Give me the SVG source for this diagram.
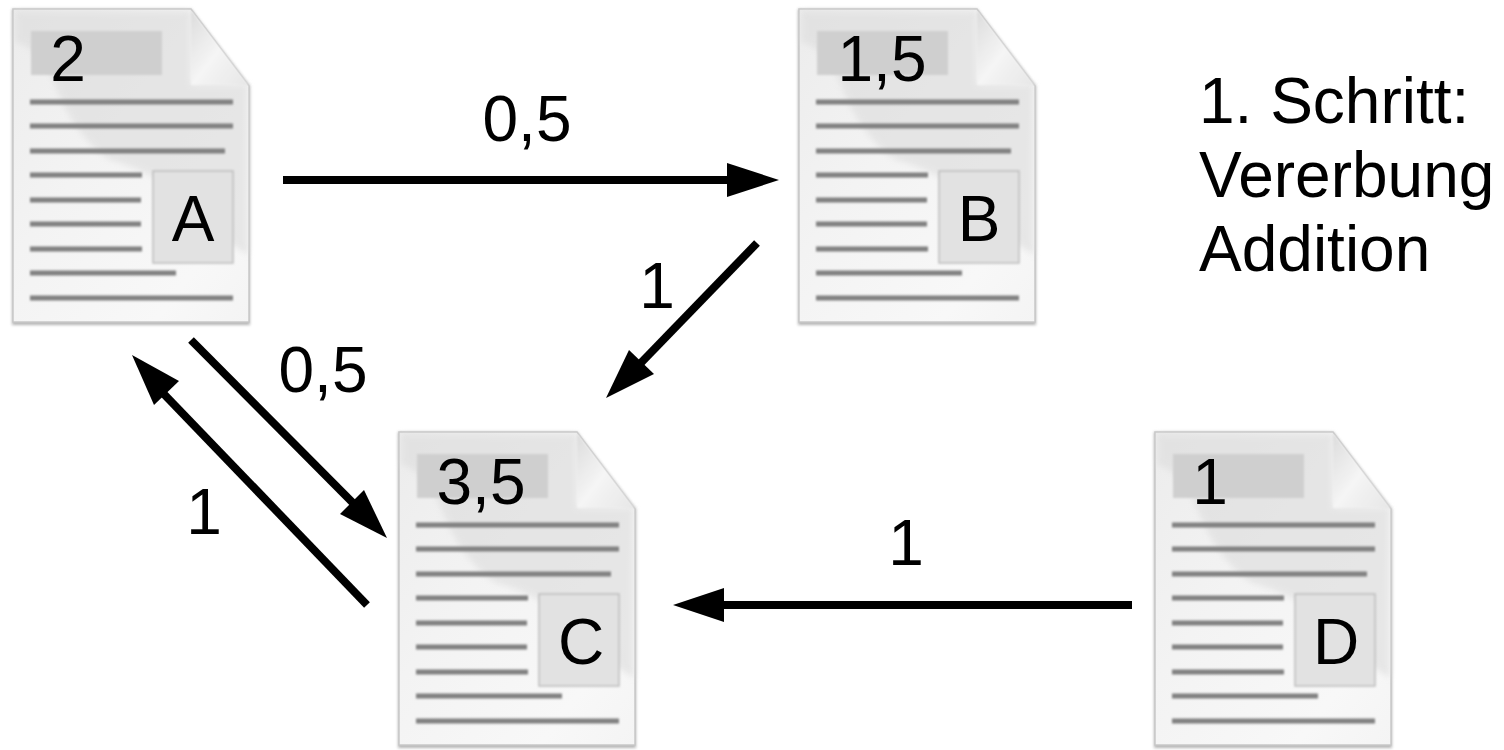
<svg xmlns="http://www.w3.org/2000/svg" xmlns:xlink="http://www.w3.org/1999/xlink" width="1504" height="750" viewBox="0 0 1504 750">
<style>
text{font-family:"Liberation Sans",Arial,sans-serif;font-size:64px;fill:#000}
.ln{stroke:#808080;stroke-width:5;fill:none}
.cn{stroke:#000;stroke-width:8;fill:none}
.ah{fill:#000;stroke:none}
</style>
<defs>
<linearGradient id="paper" x1="0" y1="0" x2="1" y2="1">
<stop offset="0" stop-color="#ececec"/><stop offset="0.4" stop-color="#f3f3f3"/><stop offset="0.8" stop-color="#f8f8f8"/><stop offset="1" stop-color="#f4f4f4"/>
</linearGradient>
<linearGradient id="foldg" x1="0" y1="0" x2="1" y2="1">
<stop offset="0" stop-color="#dcdcdc"/><stop offset="0.5" stop-color="#f5f5f5"/><stop offset="1" stop-color="#e6e6e6"/>
</linearGradient>
<filter id="soft" x="-5%" y="-5%" width="110%" height="110%"><feGaussianBlur stdDeviation="1"/></filter>
<filter id="wide" x="-5%" y="-5%" width="110%" height="110%"><feGaussianBlur stdDeviation="3"/></filter>
<filter id="shadow" x="-5%" y="-5%" width="110%" height="110%"><feGaussianBlur stdDeviation="1.8"/></filter>
<g id="doc">
<path d="M12 9H191L250 86V325H12Z" fill="#858585" opacity="0.6" filter="url(#shadow)"/>
<path d="M13 9H191L249 86V322H13Z" fill="url(#paper)" stroke="#c8c8c8" stroke-width="1.5"/>
<path d="M15 11H191V84H248V255L232 245C200 200 150 170 110 160C80 140 65 110 55 85C45 60 30 45 15 42Z" fill="#dcdcdc" opacity="0.6" filter="url(#wide)"/>
<path d="M191 10L249 86C232 83 208 84 191 85Z" fill="url(#foldg)" filter="url(#soft)"/>
<rect x="31" y="31" width="131" height="44" fill="#cfcfcf" filter="url(#soft)"/>
<rect x="153" y="171" width="80" height="92" fill="#e2e2e2" stroke="#bcbcbc" stroke-width="1.5" filter="url(#soft)"/>
<g class="ln" filter="url(#soft)">
<path d="M30 102H233M30 126H233M30 151H225M30 175H142M30 200H141M30 224H141M30 249H142M30 273H176M30 298H233"/>
</g>
</g>
</defs>
<g id="connectors">
<path class="cn" d="M283 180H735"/><polygon class="ah" points="779,180 727,163 727,197"/>
<path class="cn" d="M757 243L635 369"/><polygon class="ah" points="606,398 629,350 654,374"/>
<path class="cn" d="M191 340L360 510"/><polygon class="ah" points="387,538 340,514 364,490"/>
<path class="cn" d="M367 605L160 390"/><polygon class="ah" points="132,355 179,381 154,405"/>
<path class="cn" d="M1132 605H715"/><polygon class="ah" points="673,605 724,588 724,622"/>
</g>
<g id="node-a"><use href="#doc" xlink:href="#doc"/><text x="68" y="81" text-anchor="middle">2</text><text x="193" y="241" text-anchor="middle">A</text></g>
<g id="node-b"><use href="#doc" xlink:href="#doc" x="786"/><text x="882" y="81" text-anchor="middle">1,5</text><text x="979" y="241" text-anchor="middle">B</text></g>
<g id="node-c"><use href="#doc" xlink:href="#doc" x="386" y="423"/><text x="481" y="504" text-anchor="middle">3,5</text><text x="581" y="664" text-anchor="middle">C</text></g>
<g id="node-d"><use href="#doc" xlink:href="#doc" x="1142" y="423"/><text x="1210" y="504" text-anchor="middle">1</text><text x="1336" y="664" text-anchor="middle">D</text></g>
<g id="labels">
<text x="527" y="141" text-anchor="middle">0,5</text>
<text x="657" y="308" text-anchor="middle">1</text>
<text x="323" y="392" text-anchor="middle">0,5</text>
<text x="204" y="534" text-anchor="middle">1</text>
<text x="906" y="565" text-anchor="middle">1</text>
<text x="1199" y="123">1. Schritt:</text>
<text x="1199" y="197">Vererbung</text>
<text x="1199" y="271">Addition</text>
</g>
</svg>
